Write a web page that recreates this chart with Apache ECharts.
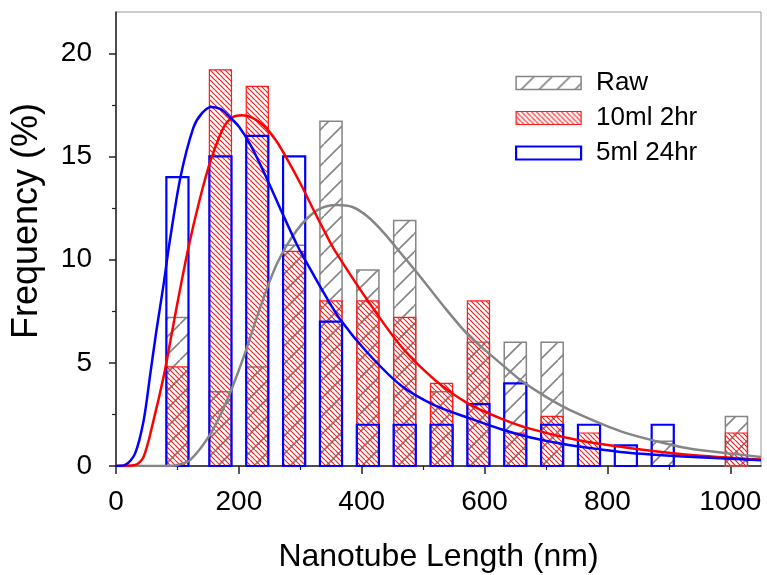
<!DOCTYPE html>
<html>
<head>
<meta charset="utf-8">
<script src="https://cdn.jsdelivr.net/npm/echarts@6/dist/echarts.min.js"></script>
<style>
html,body{margin:0;padding:0;background:#fff;}
#chart{width:767px;height:575px;}
</style>
</head>
<body>
<div id="chart"></div>
<script>
// ---- data ----
const binCenters = [100, 170, 230, 290, 350, 410, 470, 530, 590, 650, 710, 770, 830, 890, 1010];
const rawFreq    = [7.2, 3.6, 4.8, 10.7, 16.7, 9.5, 11.9, 3.6, 6.0, 6.0, 6.0, 0, 0, 1.2, 2.4];
const ml10Freq   = [4.8, 19.2, 18.4, 10.4, 8.0, 8.0, 7.2, 4.0, 8.0, 1.6, 2.4, 1.6, 0, 0, 1.6];
const ml5Freq    = [14.0, 15.0, 16.0, 15.0, 7.0, 2.0, 2.0, 2.0, 3.0, 4.0, 2.0, 2.0, 1.0, 2.0, 0];

const rawFit = [[0,0],[80,0],[100,0.05],[121,0.3],[154,1.57],[181,3.2],[208,5.3],[235,7.7],[262,9.8],[295,11.45],[328,12.4],[360,12.65],[385,12.55],[409,12.1],[436,11.3],[464,10.3],[496,9.15],[529,7.9],[575,6.3],[627,4.95],[659,4.15],[700,3.35],[740,2.7],[822,1.68],[880,1.2],[931,0.86],[1000,0.6],[1050,0.44]];
const ml10Fit = [[0,0],[31,0.05],[45,0.45],[61,2.2],[78,4.4],[90,6.3],[100,7.9],[118,10.6],[137,13.0],[154,14.8],[175,16.4],[190,16.9],[205,17.0],[220,16.9],[240,16.5],[260,15.8],[280,14.8],[300,13.7],[320,12.5],[344,11.1],[355,10.5],[409,8.05],[464,5.8],[518,4.2],[572,3.05],[627,2.3],[675,1.8],[757,1.22],[838,0.86],[931,0.55],[1050,0.31]];
const ml5Fit = [[0,0],[15,0.05],[31,0.6],[45,2.2],[56,4.5],[66,6.6],[78,8.9],[86,10.6],[105,14.0],[126,16.4],[140,17.1],[155,17.4],[170,17.3],[182,17.0],[200,16.45],[220,15.5],[246,13.9],[270,12.3],[295,10.7],[317,9.5],[340,8.3],[365,7.1],[409,5.5],[464,3.9],[518,2.95],[572,2.35],[627,1.78],[675,1.38],[730,1.05],[790,0.8],[838,0.63],[931,0.45],[1050,0.28]];

const xTickLabels = [0, 200, 400, 600, 800, 1000];
const xMinorTicks = [100, 300, 500, 700, 900];
const yTickLabels = [0, 5, 10, 15, 20];
const yMinorTicks = [2.5, 7.5, 12.5, 17.5];

// ---- styles ----
const FONT = 'Liberation Sans, Arial, sans-serif';
const HALF_BIN = 18;
function hatch(size, dir, color, lw) {
  const c = document.createElement('canvas');
  c.width = size; c.height = size;
  const g = c.getContext('2d');
  g.strokeStyle = color; g.lineWidth = lw; g.beginPath();
  for (let k = -1; k <= 1; k++) {
    if (dir === '/') { g.moveTo(k * size, size); g.lineTo(k * size + size, 0); }
    else { g.moveTo(k * size, 0); g.lineTo(k * size + size, size); }
  }
  g.stroke();
  return { image: c, repeat: 'repeat' };
}
const grayPat = hatch(18, '/', '#858585', 1.6);
const redPat = hatch(5, '\\', '#ff1a1a', 1.2);

function makeBars(name, xs, ys, fill, stroke, lw, z) {
  return {
    type: 'custom', name: name, z: z,
    data: xs.map((x, i) => [x, ys[i]]),
    itemStyle: { color: stroke },
    renderItem: function (params, api) {
      const x = api.value(0), y = api.value(1);
      if (!y) return null;
      const p0 = api.coord([x - HALF_BIN, 0]);
      const p1 = api.coord([x + HALF_BIN, y]);
      return {
        type: 'rect',
        shape: { x: p0[0], y: p1[1], width: p1[0] - p0[0], height: p0[1] - p1[1] },
        style: { fill: fill, stroke: stroke, lineWidth: lw }
      };
    }
  };
}
function makeLine(name, pts, color, z) {
  return {
    type: 'line', name: name, data: pts, z: z, smooth: 0.3,
    showSymbol: false, symbol: 'none', silent: true,
    lineStyle: { color: color, width: 2.5 }
  };
}

const chart = echarts.init(document.getElementById('chart'));
chart.setOption({
  animation: false,
  backgroundColor: '#fff',
  grid: { left: 116, right: 6, top: 12, bottom: 109, outerBoundsMode: 'none', containLabel: false,
          show: true, borderColor: '#999', borderWidth: 1 },
  legend: {
    left: 515, top: 70, orient: 'vertical', padding: 0,
    itemWidth: 65, itemHeight: 13, itemGap: 9,
    textStyle: { fontSize: 26, fontFamily: FONT, color: '#000', padding: [0, 0, 0, 10] },
    data: [
      { name: 'Raw', icon: 'rect', itemStyle: { color: grayPat, borderColor: '#858585', borderWidth: 1.5 } },
      { name: '10ml 2hr', icon: 'rect', itemStyle: { color: redPat, borderColor: '#ff1a1a', borderWidth: 1.2 } },
      { name: '5ml 24hr', icon: 'rect', itemStyle: { color: 'rgba(0,0,0,0)', borderColor: '#0000ff', borderWidth: 2.2 } }
    ]
  },
  xAxis: [
    {
      type: 'value', min: 0, max: 1050,
      axisLine: { show: true, lineStyle: { color: '#222', width: 1.5 } },
      axisTick: { show: true, length: 8, customValues: xTickLabels, lineStyle: { color: '#222', width: 1.5 } },
      axisLabel: { customValues: xTickLabels, formatter: v => String(v), fontSize: 28, fontFamily: FONT, color: '#000', margin: 22 },
      splitLine: { show: false },
      name: 'Nanotube Length (nm)', nameLocation: 'middle', nameGap: 75,
      nameTextStyle: { fontSize: 32, fontFamily: FONT, color: '#000' }
    },
    {
      type: 'value', min: 0, max: 1050, position: 'bottom',
      axisLine: { show: false },
      axisTick: { show: true, length: 4, customValues: xMinorTicks, lineStyle: { color: '#222', width: 1.2 } },
      axisLabel: { show: false }, splitLine: { show: false }
    }
  ],
  yAxis: [
    {
      type: 'value', min: 0, max: 22,
      axisLine: { show: true, lineStyle: { color: '#222', width: 1.5 } },
      axisTick: { show: true, length: 7, customValues: yTickLabels, lineStyle: { color: '#222', width: 1.5 } },
      axisLabel: { customValues: yTickLabels, formatter: v => String(v), fontSize: 28, fontFamily: FONT, color: '#000', margin: 24 },
      splitLine: { show: false }
    },
    {
      type: 'value', min: 0, max: 22, position: 'left',
      axisLine: { show: false },
      axisTick: { show: true, length: 4, customValues: yMinorTicks, lineStyle: { color: '#222', width: 1.2 } },
      axisLabel: { show: false }, splitLine: { show: false }
    }
  ],
  graphic: [{
    type: 'text', x: 27, y: 221, rotation: Math.PI / 2, z: 10,
    style: { text: 'Frequency (%)', font: '36px ' + FONT, fill: '#000', align: 'center', verticalAlign: 'middle' }
  }],
  series: [
    makeBars('Raw', binCenters, rawFreq, grayPat, '#858585', 1.5, 2),
    makeBars('10ml 2hr', binCenters, ml10Freq, redPat, '#ff1a1a', 1.2, 3),
    makeBars('5ml 24hr', binCenters, ml5Freq, 'none', '#0000ff', 2.2, 4),
    makeLine('Raw fit', rawFit, '#858585', 5),
    makeLine('10ml 2hr fit', ml10Fit, '#ff0000', 6),
    makeLine('5ml 24hr fit', ml5Fit, '#0000ff', 7)
  ]
});
</script>
</body>
</html>
